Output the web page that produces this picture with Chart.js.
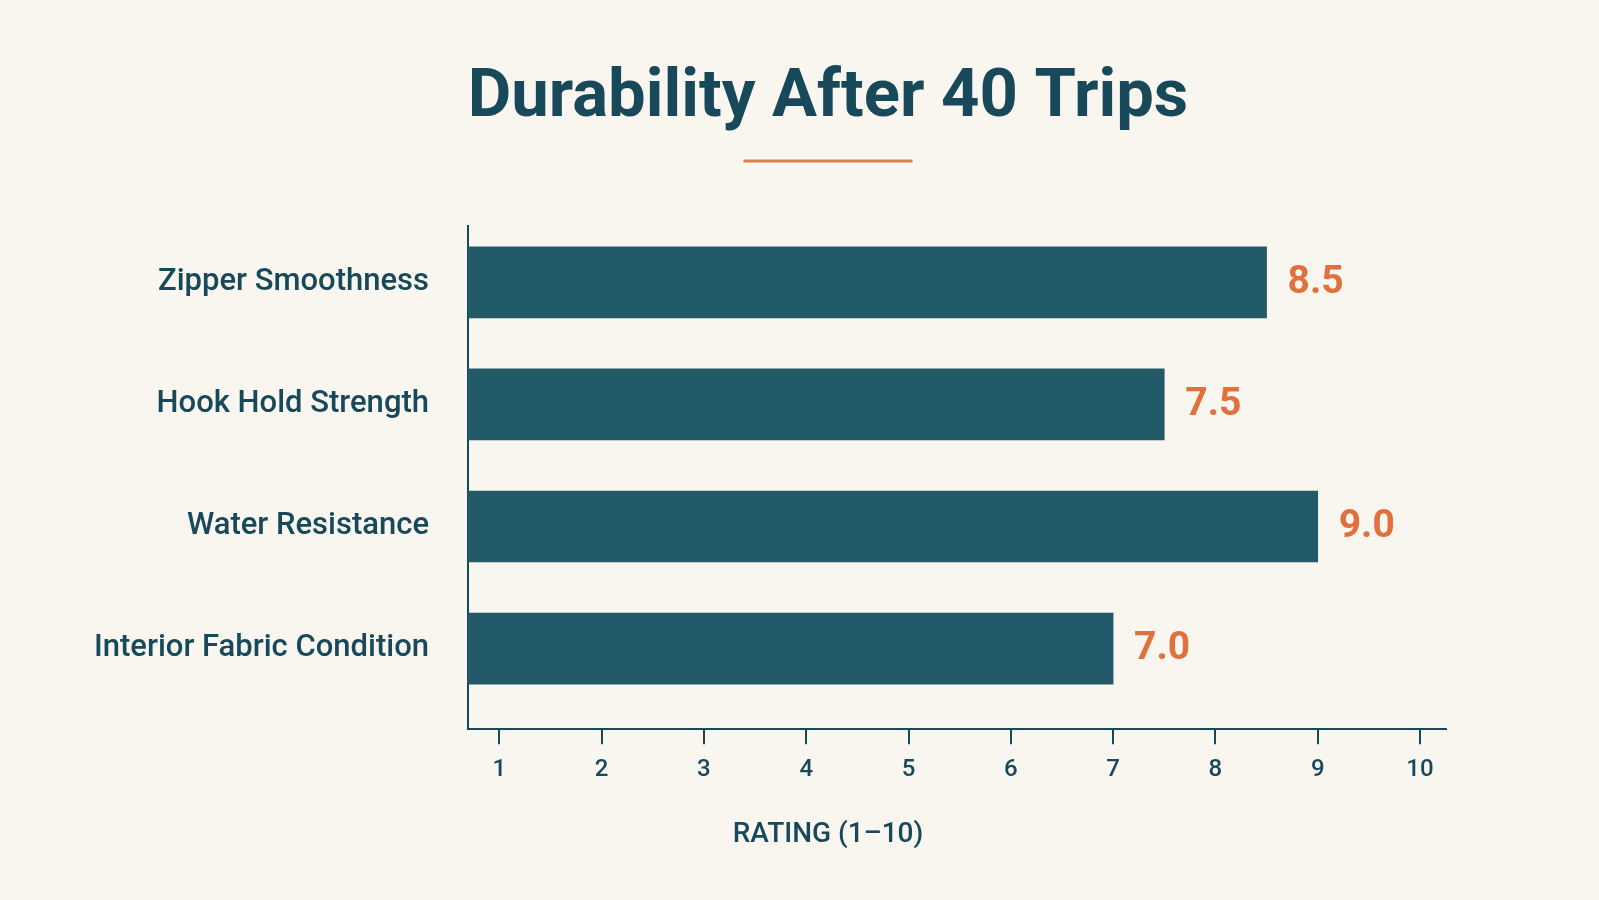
<!DOCTYPE html>
<html>
<head>
<meta charset="utf-8">
<title>Durability After 40 Trips</title>
<script src="https://cdn.jsdelivr.net/npm/chart.js@4.4.1/dist/chart.umd.min.js"></script>
<style>
  html, body { margin: 0; padding: 0; background: #F9F6EF; }
  #wrap { width: 1599px; height: 900px; }
</style>
</head>
<body>
<div id="wrap"><canvas id="chart" width="1599" height="900"></canvas></div>
<script>
// ---- data ----
const categories = ['Zipper Smoothness', 'Hook Hold Strength', 'Water Resistance', 'Interior Fabric Condition'];
const ratings = [8.5, 7.5, 9.0, 7.0];
const ratingLabels = ['8.5', '7.5', '9.0', '7.0'];
const xTicks = [1, 2, 3, 4, 5, 6, 7, 8, 9, 10];
const chartTitle = 'Durability After 40 Trips';
const axisTitle = 'RATING (1–10)';

// ---- styles ----
const TEAL_TEXT = '#17495A';
const BAR = '#225A69';
const ORANGE = '#E0703C';
const FONT = 'Roboto';

const points = categories.map((c, i) => ({ x: ratings[i], y: i }));

const valueLabelPlugin = {
  id: 'valueLabels',
  afterDatasetsDraw(chart) {
    const ctx = chart.ctx;
    const meta = chart.getDatasetMeta(0);
    ctx.save();
    ctx.font = `700 39px ${FONT}`;
    ctx.fillStyle = ORANGE;
    ctx.textAlign = 'left';
    ctx.textBaseline = 'middle';
    meta.data.forEach((bar, i) => {
      ctx.fillText(ratingLabels[i], bar.x + 21, bar.y + 1);
    });
    ctx.restore();
  }
};

const underlinePlugin = {
  id: 'titleUnderline',
  afterDraw(chart) {
    const tb = chart.titleBlock;
    if (!tb) return;
    const ctx = chart.ctx;
    const cx = (tb.left + tb.right) / 2;
    const y = tb.top + 161;
    ctx.save();
    ctx.strokeStyle = '#E07E4C';
    ctx.lineWidth = 3;
    ctx.beginPath();
    ctx.moveTo(cx - 84.5, y);
    ctx.lineTo(cx + 84.5, y);
    ctx.stroke();
    ctx.restore();
  }
};

const bgPlugin = {
  id: 'bg',
  beforeDraw(chart) {
    const ctx = chart.ctx;
    ctx.save();
    ctx.fillStyle = '#F9F6EF';
    ctx.fillRect(0, 0, chart.width, chart.height);
    ctx.restore();
  }
};

new Chart(document.getElementById('chart'), {
  type: 'bar',
  data: {
    datasets: [{
      label: axisTitle,
      data: points,
      backgroundColor: BAR,
      borderWidth: 0,
      barThickness: 71,
      xAxisID: 'x',
      yAxisID: 'y'
    }]
  },
  options: {
    indexAxis: 'y',
    responsive: false,
    animation: false,
    layout: { padding: { left: 88, right: 31, top: 0, bottom: 0 } },
    plugins: {
      legend: { display: false },
      tooltip: { enabled: false },
      title: {
        display: true,
        text: chartTitle,
        color: TEAL_TEXT,
        font: { family: FONT, size: 67, weight: '700', lineHeight: 1.2 },
        padding: { top: 59, bottom: 86.6 }
      },
      subtitle: {
        display: true,
        position: 'bottom',
        text: axisTitle,
        color: TEAL_TEXT,
        font: { family: FONT, size: 28, weight: '500', lineHeight: 1.2 },
        padding: { top: 22.7, bottom: 48.7 }
      }
    },
    scales: {
      x: {
        type: 'linear',
        position: 'bottom',
        min: 0.694,
        max: 10.254,
        afterBuildTicks(scale) {
          scale.ticks = xTicks.map(v => ({ value: v }));
        },
        ticks: {
          stepSize: 1,
          includeBounds: false,
          color: TEAL_TEXT,
          font: { family: FONT, size: 24, weight: '500', lineHeight: 1.2 },
          padding: 11,
          maxRotation: 0
        },
        grid: {
          display: true,
          drawOnChartArea: false,
          drawTicks: true,
          tickLength: 15,
          lineWidth: 2,
          color: TEAL_TEXT
        },
        border: { display: true, color: TEAL_TEXT, width: 2 }
      },
      y: {
        type: 'linear',
        position: 'left',
        reverse: true,
        offset: false,
        min: -0.4616,
        max: 3.66,
        afterBuildTicks(scale) {
          scale.ticks = categories.map((c, i) => ({ value: i }));
        },
        afterFit(scale) { scale.width = 380; },
        ticks: {
          stepSize: 1,
          autoSkip: false,
          color: TEAL_TEXT,
          font: { family: FONT, size: 31, weight: '500', lineHeight: 1.2 },
          padding: 39,
          callback: (v) => categories[v] !== undefined ? categories[v] : ''
        },
        grid: { display: true, offset: false, drawOnChartArea: false, drawTicks: false },
        border: { display: true, color: TEAL_TEXT, width: 2 }
      },
      // empty right-hand margin box (no marks), keeps the title centred as in the reference
      yRight: {
        type: 'linear',
        position: 'right',
        display: true,
        ticks: { display: false },
        grid: { display: false, drawTicks: false },
        border: { display: false },
        afterFit(scale) { scale.width = 122; }
      }
    }
  },
  plugins: [bgPlugin, valueLabelPlugin, underlinePlugin]
});
</script>
</body>
</html>
